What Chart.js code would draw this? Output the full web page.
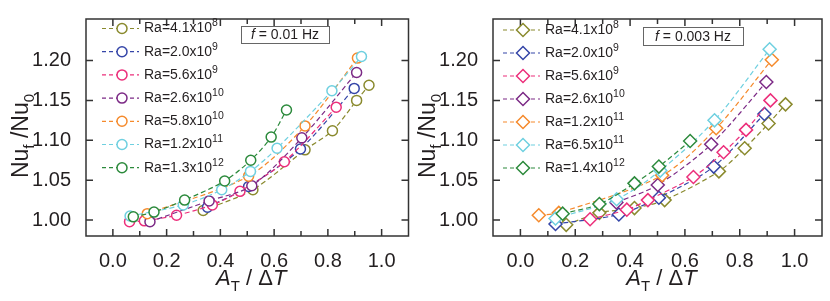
<!DOCTYPE html>
<html>
<head>
<meta charset="utf-8">
<script src="https://cdn.jsdelivr.net/npm/chart.js@4.4.1/dist/chart.umd.min.js"></script>
<style>
body{margin:0;background:#fff;}
#wrap{position:relative;width:830px;height:301px;}
canvas{position:absolute;top:0;}
</style>
</head>
<body>
<div id="wrap">
<canvas id="left" width="415" height="301" style="left:0"></canvas>
<canvas id="right" width="415" height="301" style="left:415px"></canvas>
</div>
<script>
const xTicks=[0,0.2,0.4,0.6,0.8,1.0];
const xMinorTicks=[0.1,0.3,0.5,0.7,0.9];
const yTicks=[1.00,1.05,1.10,1.15,1.20];
const seriesColors=['#8a8a2e','#3546a8','#ec2f7b','#7c2a86','#f58a2c','#6fd0e0','#2c8a3c'];

// f = 0.01 Hz
const leftMant=['4.1','2.0','5.6','2.6','5.8','1.2','1.3'];
const leftExp=['8','9','9','10','10','11','12'];
const leftX=[
    [0.336,0.521,0.715,0.817,0.907,0.953],
    [0.352,0.505,0.698,0.898],
    [0.062,0.117,0.237,0.370,0.473,0.638,0.831],
    [0.138,0.358,0.517,0.703,0.907],
    [0.128,0.505,0.715,0.910],
    [0.064,0.262,0.405,0.512,0.611,0.815,0.925],
    [0.076,0.153,0.267,0.416,0.513,0.589,0.646]
];
const leftY=[
    [1.012,1.038,1.088,1.112,1.150,1.169],
    [1.016,1.042,1.089,1.165],
    [0.998,0.999,1.006,1.019,1.036,1.073,1.1415],
    [0.998,1.024,1.043,1.103,1.185],
    [1.008,1.055,1.118,1.203],
    [1.005,1.019,1.038,1.061,1.090,1.162,1.205],
    [1.004,1.010,1.025,1.049,1.075,1.104,1.138]
];

// f = 0.003 Hz
const rightMant=['4.1','2.0','5.6','2.6','1.2','6.5','1.4'];
const rightExp=['8','9','9','10','11','11','12'];
const rightX=[
    [0.167,0.288,0.416,0.526,0.724,0.818,0.905,0.967],
    [0.128,0.359,0.505,0.705,0.890],
    [0.254,0.388,0.465,0.631,0.741,0.823,0.912],
    [0.350,0.501,0.696,0.897],
    [0.067,0.140,0.517,0.714,0.917],
    [0.128,0.351,0.510,0.708,0.909],
    [0.154,0.288,0.416,0.505,0.619]
];
const rightY=[
    [0.994,1.009,1.015,1.025,1.061,1.090,1.121,1.145],
    [0.995,1.007,1.028,1.067,1.133],
    [1.001,1.013,1.025,1.054,1.085,1.113,1.150],
    [1.022,1.044,1.095,1.173],
    [1.006,1.009,1.056,1.115,1.201],
    [1.002,1.026,1.062,1.125,1.214],
    [1.008,1.020,1.046,1.067,1.099]
];

const FONT='"Liberation Sans", Arial, sans-serif';
const TXT='#231f20';

function drawParts(ctx,parts,x,y,center){
    let w=0;
    parts.forEach(p=>{ctx.font=p.font;w+=ctx.measureText(p.t).width;});
    let cx=center?x-w/2:x;
    ctx.textAlign='left';
    parts.forEach(p=>{
        ctx.font=p.font;
        ctx.fillText(p.t,cx,y+(p.dy||0));
        cx+=ctx.measureText(p.t).width;
    });
}

const decorPlugin={
    id:'decor',
    afterDatasetsDraw(chart,args,opt){
        const ctx=chart.ctx;
        const a=chart.chartArea;
        const x=chart.scales.x, y=chart.scales.y;
        ctx.save();
        // frame + inward ticks
        ctx.strokeStyle='#333';
        ctx.lineWidth=1.5;
        ctx.strokeRect(a.left,a.top,a.right-a.left,a.bottom-a.top);
        ctx.beginPath();
        xTicks.concat(xMinorTicks).forEach(v=>{
            let p=x.getPixelForValue(v);
            let len=xTicks.includes(v)?7:5;
            ctx.moveTo(p,a.bottom);ctx.lineTo(p,a.bottom-len);
            ctx.moveTo(p,a.top);ctx.lineTo(p,a.top+len);
        });
        yTicks.forEach(v=>{
            let p=y.getPixelForValue(v);
            ctx.moveTo(a.left,p);ctx.lineTo(a.left+7,p);
            ctx.moveTo(a.right,p);ctx.lineTo(a.right-7,p);
        });
        ctx.stroke();

        // legend
        ctx.textBaseline='middle';
        chart.data.datasets.forEach((ds,i)=>{
            let ly=opt.legendY+i*opt.legendStep;
            let lx=opt.legendX;
            ctx.strokeStyle=ds.borderColor;
            ctx.lineWidth=1.2;
            ctx.setLineDash([4,3]);
            ctx.beginPath();ctx.moveTo(lx-20,ly);ctx.lineTo(lx+17,ly);ctx.stroke();
            ctx.setLineDash([]);
            ctx.fillStyle='#fff';
            ctx.lineWidth=1.5;
            Chart.helpers.drawPoint(ctx,{pointStyle:ds.pointStyle,radius:ds.pointRadius,rotation:0,borderWidth:1.5},lx,ly);
            ctx.fillStyle=TXT;
            drawParts(ctx,[
                {t:'Ra='+opt.mant[i]+'x10',font:'14px '+FONT},
                {t:opt.exp[i],font:'10.5px '+FONT,dy:-5}
            ],lx+22,ly,false);
        });

        // frequency box
        ctx.strokeStyle='#666';
        ctx.lineWidth=1;
        ctx.fillStyle='#fff';
        ctx.fillRect(opt.box[0],opt.box[1],opt.box[2],opt.box[3]);
        ctx.strokeRect(opt.box[0]+0.5,opt.box[1]+0.5,opt.box[2],opt.box[3]);
        ctx.fillStyle=TXT;
        drawParts(ctx,[
            {t:'f',font:'italic 14px '+FONT},
            {t:' = '+opt.freq+' Hz',font:'14px '+FONT}
        ],opt.box[0]+opt.box[2]/2,opt.box[1]+opt.box[3]/2+1,true);

        // axis titles
        ctx.textBaseline='alphabetic';
        drawParts(ctx,[
            {t:'A',font:'italic 22px '+FONT},
            {t:'T',font:'15px '+FONT,dy:6},
            {t:' / \u0394',font:'22px '+FONT},
            {t:'T',font:'italic 22px '+FONT}
        ],(a.left+a.right)/2+4,285,true);
        ctx.translate(a.left-58,136);
        ctx.rotate(-Math.PI/2);
        drawParts(ctx,[
            {t:'Nu',font:'23px '+FONT},
            {t:'f',font:'15px '+FONT,dy:6},
            {t:' /Nu',font:'23px '+FONT},
            {t:'0',font:'15px '+FONT,dy:6}
        ],0,0,true);
        ctx.restore();
    }
};

function makeChart(id,xs,ys,marker,radius,yWidth,padRight,extra){
    let datasets=xs.map((xv,i)=>({
        data:xv.map((v,j)=>({x:v,y:ys[i][j]})),
        borderColor:seriesColors[i],
        backgroundColor:'#fff',
        borderWidth:1.2,
        borderDash:[5,3],
        tension:0.3,
        pointStyle:marker,
        pointRadius:radius,
        pointBorderWidth:1.5,
        pointBackgroundColor:'#fff',
        pointBorderColor:seriesColors[i],
        order:xs.length-1-i
    }));
    return new Chart(document.getElementById(id),{
        type:'line',
        data:{datasets:datasets},
        options:{
            responsive:false,
            animation:false,
            layout:{padding:{top:6,right:padRight,bottom:0,left:0}},
            plugins:{legend:{display:false},tooltip:{enabled:false},decor:extra},
            scales:{
                x:{
                    type:'linear',min:-0.1,max:1.1,
                    grid:{display:false},border:{display:false},
                    afterBuildTicks:s=>{s.ticks=xTicks.map(v=>({value:v}));},
                    afterFit:s=>{s.height=65;},
                    ticks:{padding:5,color:TXT,font:{family:FONT,size:20},callback:v=>v.toFixed(1),maxRotation:0}
                },
                y:{
                    min:0.98,max:1.252,
                    grid:{display:false},border:{display:false},
                    afterBuildTicks:s=>{s.ticks=yTicks.map(v=>({value:v}));},
                    afterFit:s=>{s.width=yWidth;},
                    ticks:{padding:7,color:TXT,font:{family:FONT,size:20},callback:v=>v.toFixed(2)}
                }
            }
        },
        plugins:[decorPlugin]
    });
}

makeChart('left',leftX,leftY,'circle',5,86,6,{
    mant:leftMant,exp:leftExp,legendX:122,legendY:28.5,legendStep:23.2,
    box:[241,26,88,17],freq:'0.01'
});
makeChart('right',rightX,rightY,'rectRot',6.5,78,8,{
    mant:rightMant,exp:rightExp,legendX:108,legendY:30,legendStep:23,
    box:[228,27,100,18],freq:'0.003'
});
</script>
</body>
</html>
